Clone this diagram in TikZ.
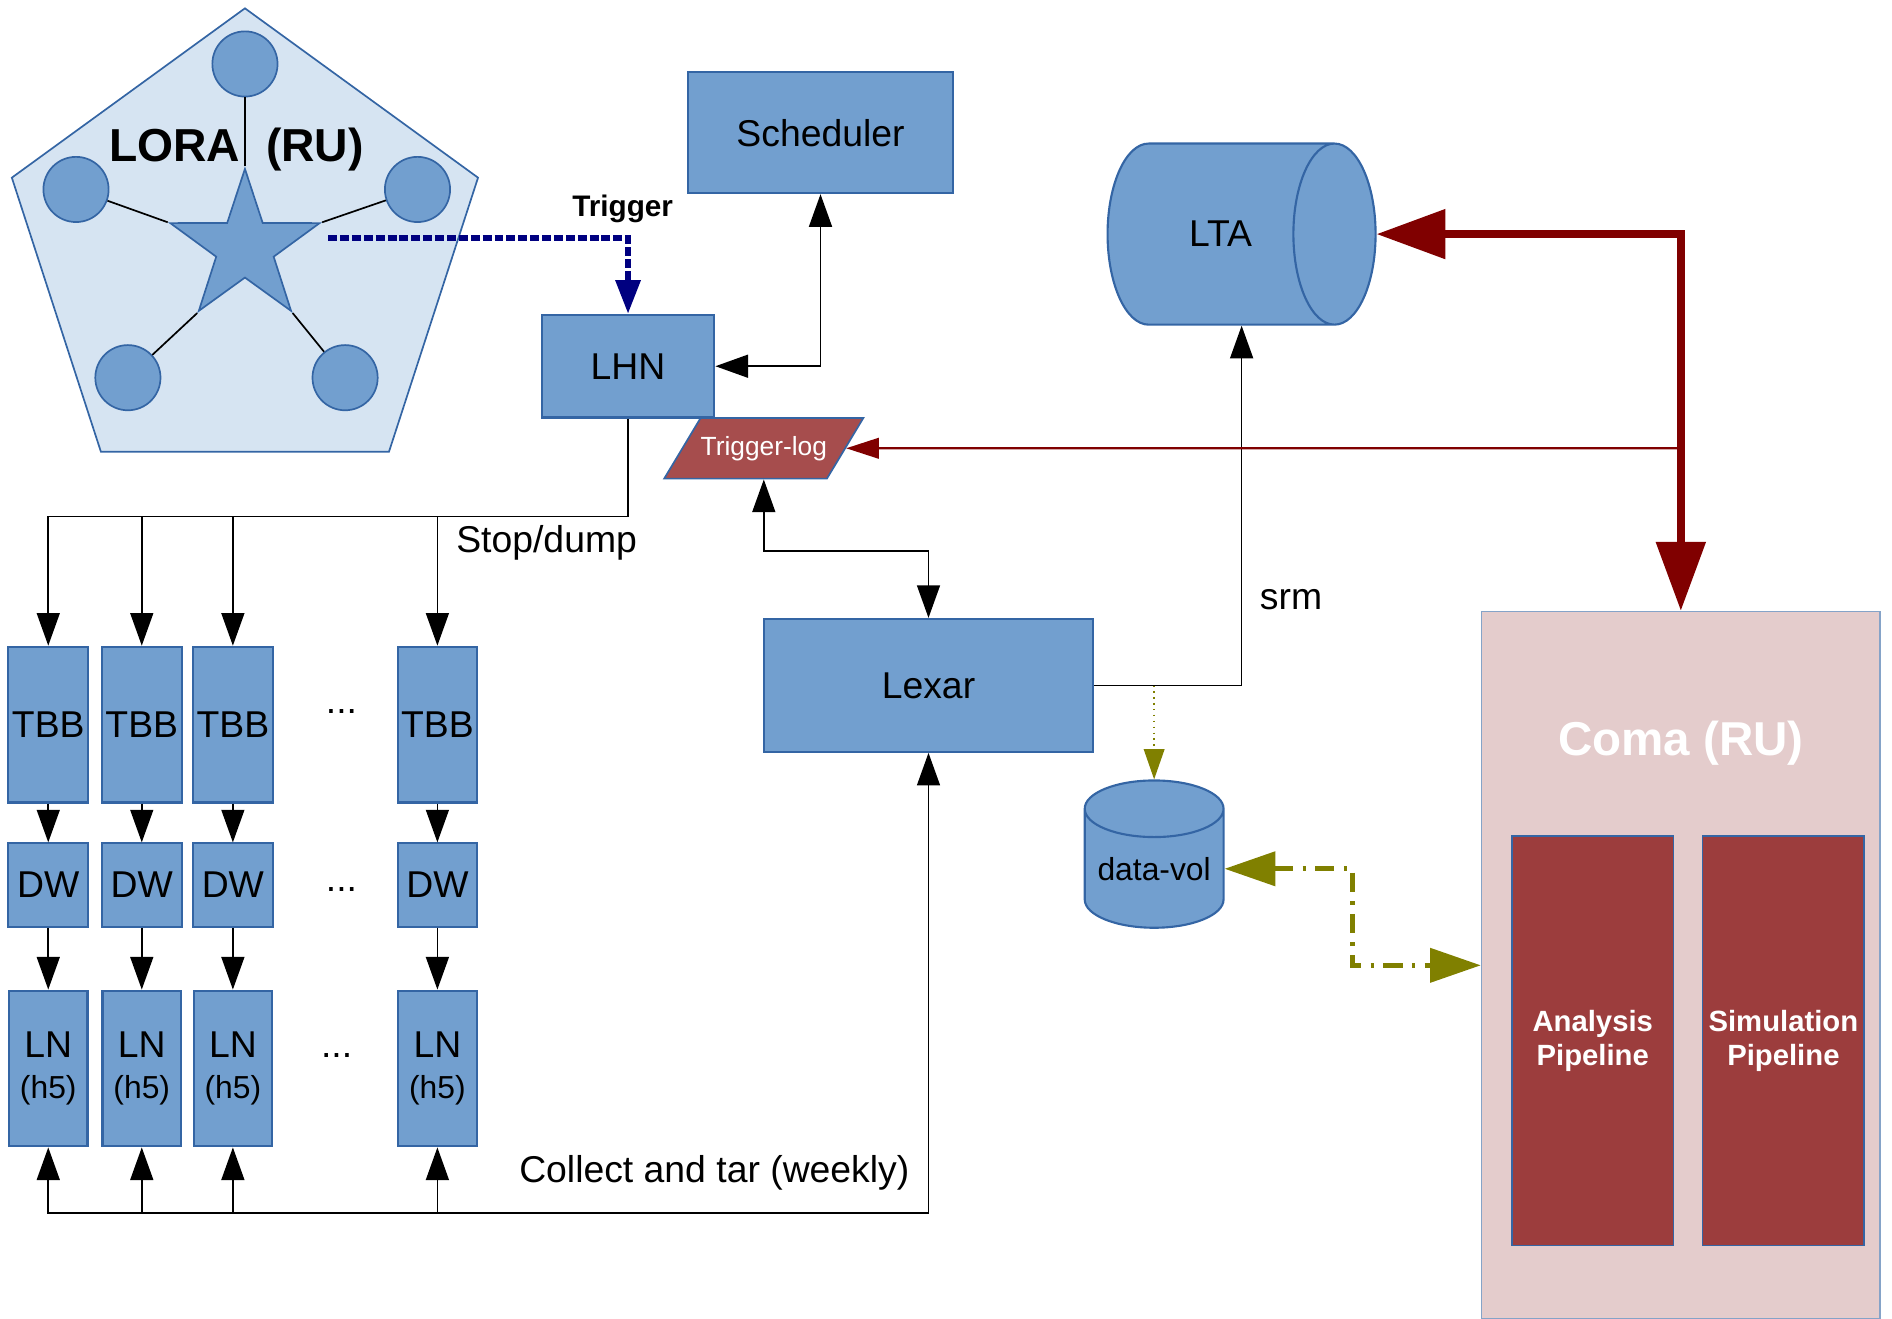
\documentclass[tikz,border=0pt]{standalone}
\usepackage{fontspec}
\setmainfont{Liberation Sans}
\usetikzlibrary{arrows.meta,shapes.geometric,positioning}

\definecolor{boxblue}{HTML}{729FCF}
\definecolor{edgeblue}{HTML}{3465A4}
\definecolor{lorafill}{HTML}{D6E4F2}
\definecolor{logred}{HTML}{A64D4D}
\definecolor{pipered}{HTML}{9C3D3D}
\definecolor{comapink}{HTML}{E4CCCC}
\definecolor{darkred}{HTML}{800000}
\definecolor{trignavy}{HTML}{000080}
\definecolor{dataolive}{HTML}{808000}

\tikzset{
  blk/.style={draw=edgeblue, fill=boxblue, line width=0.5pt, inner sep=0pt, font=\fontsize{8.8}{8.6}\selectfont},
  lbl/.style={font=\fontsize{8.8}{10}\selectfont},
  pipe/.style={draw=edgeblue, fill=pipered, text=white, align=center, inner sep=0pt,
    minimum width=1.34cm, minimum height=3.39cm, font=\bfseries\fontsize{6.9}{8}\selectfont},
  >={Triangle[length=0.27cm,width=0.19cm]},
}

\begin{document}
\begin{tikzpicture}[x=0.01cm, y=-0.01cm, line width=0.4pt]
\useasboundingbox (0,0) rectangle (1568,1093);

% LORA array
\node[regular polygon, regular polygon sides=5, minimum size=4.06cm, inner sep=0pt, draw=edgeblue, fill=lorafill] (lora) at (203,210) {};
\node[star, star points=5, star point ratio=2.6, minimum size=1.3cm, inner sep=0pt, draw=edgeblue, fill=boxblue] (star) at (203,205) {};
\foreach \n/\x/\y in {1/203/53, 2/63/157, 3/106/313, 4/286/313, 5/346/157}{
	\node[circle, minimum size=0.54cm, inner sep=0pt, draw=edgeblue, fill=boxblue] (det\n) at (\x,\y) {};
	\draw (det\n) -- (star.outer point \n);
}
\node[font=\bfseries\fontsize{10.9}{12}\selectfont, anchor=base] (loratext) at (196,134) {LORA\ \ (RU)};

% control
\node[blk, minimum width=2.20cm, minimum height=1.00cm] (sched) at (680,110) {Scheduler};
\node[blk, minimum width=1.43cm, minimum height=0.85cm] (lhn) at (520.5,303.5) {LHN};
\node[trapezium, trapezium left angle=59, trapezium right angle=121,
	inner xsep=0pt, inner ysep=0.15cm, draw=edgeblue, fill=logred,
	text=white, font=\fontsize{6.2}{7}\selectfont] (tlog) at (633,371.5) {Trigger-log};
\node[blk, minimum width=2.73cm, minimum height=1.10cm] (lexar) at (769.5,568) {Lexar};

\node[font=\bfseries\fontsize{7}{8}\selectfont] (trig) at (516,173) {Trigger};
\draw[trignavy, line width=1.4pt, dash pattern=on 2.1pt off 0.7pt, -{Triangle[length=0.28cm,width=0.2cm]}]
	([xshift=0.05cm,yshift=-0.13cm]star.outer point 5) -| (lhn.north);
\draw[<->] (sched.south) |- (lhn.east);

% storage
\node[cylinder, blk, aspect=3.2, minimum width=1.50cm, minimum height=2.22cm] (lta) at (1011.5,194) {LTA};
\node[cylinder, blk, shape border rotate=90, aspect=0.5, minimum width=1.15cm, minimum height=1.22cm,
	font=\fontsize{7.5}{9}\selectfont] (dvol) at (956.5,720) {data-vol};

% Coma
\node[draw=edgeblue!60, fill=comapink, minimum width=3.30cm, minimum height=5.86cm, inner sep=0pt] (coma) at (1393,800) {};
\node[font=\bfseries\fontsize{11.2}{13}\selectfont, text=white] (comatext) at (1393,616) {Coma (RU)};
\node[pipe] (ana) at (1320,862.5) {Analysis\\Pipeline};
\node[pipe] (sim) at (1478,862.5) {Simulation\\Pipeline};

% station columns
\foreach \i/\x in {1/40, 2/117.5, 3/193, 4/362.5}{
	\node[blk, minimum width=0.66cm, minimum height=1.29cm] (tbb\i) at (\x,600.5) {TBB};
	\node[blk, minimum width=0.66cm, minimum height=0.69cm] (dw\i) at (\x,733.5) {DW};
	\node[blk, minimum width=0.65cm, minimum height=1.29cm, align=center] (ln\i) at (\x,885.5)
		{LN\\[1pt]{\fontsize{7.5}{9}\selectfont (h5)}};
	\draw[->] (tbb\i) -- (dw\i);
	\draw[->] (dw\i) -- (ln\i);
}
\node[lbl] (dots1) at (283,590) {...};
\node[lbl] (dots2) at (283,737) {...};
\node[lbl] (dots3) at (279,875) {...};

\coordinate (stopbus) at (300,428);
\draw[->] (lhn.south) |- (tbb1.north |- stopbus) -- (tbb1.north);
\foreach \i in {2,3,4}
	\draw[->] (tbb\i.north |- stopbus) -- (tbb\i.north);
\node[lbl] (stoptext) at (453,450) {Stop/dump};

\coordinate (colbus) at (400,1005);
\draw[<->] (ln1.south) -- (ln1.south |- colbus) -| (lexar.south);
\foreach \i in {2,3,4}
	\draw[->] (ln\i.south |- colbus) -- (ln\i.south);
\node[lbl] (coltext) at (592,972) {Collect and tar (weekly)};

\draw[<->] (tlog.south) -- ++(0,59) -| (lexar.north);

\draw[dataolive, densely dotted, -{Triangle[length=0.25cm,width=0.17cm]}] (lexar.east) -| (dvol.north);
\draw[->] (lexar.east) -| ([xshift=0.175cm]lta.south);
\node[lbl] (srmtext) at (1070,497) {srm};

\draw[dataolive, line width=1.1pt, dash pattern=on 4.5pt off 2.2pt on 0.8pt off 2.2pt,
	{Triangle[length=0.42cm,width=0.28cm]}-{Triangle[length=0.42cm,width=0.28cm]}]
	(dvol.east) -- ++(106,0) |- (coma.west);

\draw[darkred, line width=1.8pt, {Triangle[length=0.57cm,width=0.40cm]}-{Triangle[length=0.57cm,width=0.40cm]}]
	(lta.east) -| (coma.north);
\draw[darkred, line width=0.5pt, -{Triangle[length=0.27cm,width=0.17cm]}] (coma.north |- tlog) -- (tlog.east);

\end{tikzpicture}
\end{document}
